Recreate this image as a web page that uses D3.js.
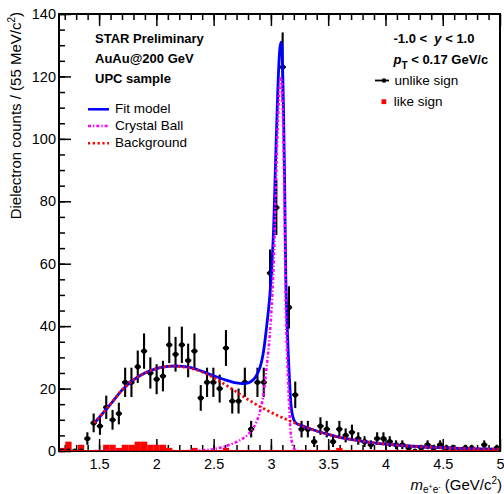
<!DOCTYPE html>
<html>
<head>
<meta charset="utf-8">
<script src="https://cdn.jsdelivr.net/npm/d3@7/dist/d3.min.js"></script>
<style>
body { margin: 0; background: #fff; }
svg { font-family: "Liberation Sans", Arial, Helvetica, sans-serif; }
.axis path { display: none; }
.axis line { stroke: #000; stroke-width: 1.5px; }
.axis text { font-size: 14.5px; fill: #000; }
.label { font-size: 13px; fill: #000; white-space: pre; }
.bold { font-weight: bold; }
</style>
</head>
<body>
<div id="chart"></div>
<script>
// histogram binning: 70 bins of 55 MeV from 1.15 to 5.0 GeV/c^2
var binLow = 1.15;
var binWidth = 0.055;

// unlike-sign pairs (black points), counts per bin
var unlikeCounts = [
	0, 0, 0, 0, 4, 9, 8, 14, 10, 12,
	22, 22, 27, 32, 25, 23, 24, 34, 31, 34,
	29, 32, 17, 22, 22, 20, 33, 16, 16, 22,
	7, 22, 22, 57, 78, 123, 46, 18, 7, 7,
	3, 8, 7, 3, 7, 5, 6, 4, 3, 2,
	4, 4, 3, 2, 2, 1, 0, 1, 2, 1,
	2, 1, 1, 0, 1, 1, 0, 2, 0, 1
];

// like-sign pairs (red filled histogram)
var likeCounts = [
	1, 3, 0, 2, 0, 0, 0, 2, 2, 1,
	2, 2, 3, 3, 2, 2, 2, 1, 0, 0,
	0, 1, 0, 0, 0, 0, 1, 0, 0, 0,
	0, 0, 0, 0, 0, 0, 0, 0, 0, 0,
	0, 0, 0, 0, 1, 0, 0, 0, 0, 0,
	0, 0, 0, 0, 0, 0, 0, 0, 0, 0,
	0, 0, 0, 0, 0, 0, 0, 0, 0, 0
];

// fit model
var fitMass = [1.46, 1.5, 1.6, 1.7, 1.8, 1.9, 2.0, 2.1, 2.2, 2.3, 2.4, 2.5, 2.6, 2.7, 2.75, 2.8, 2.85, 2.9,
	2.93, 2.96, 2.99, 3.02, 3.04, 3.06, 3.08, 3.09, 3.10, 3.11, 3.12, 3.13, 3.14, 3.16, 3.18, 3.2, 3.22,
	3.3, 3.4, 3.5, 3.6, 3.7, 3.8, 3.9, 4.0, 4.2, 4.4, 4.6, 4.8, 5.0];
var fitCounts = [9, 10.7, 15, 19.5, 22.8, 25, 26.4, 27.1, 27.2, 26.7, 25.5, 24.1, 22.8, 21.8, 21.6, 21.8, 23, 26.3,
	30.7, 39, 49.5, 68, 91.7, 115.3, 129.5, 131, 124.5, 109.5, 86, 55.5, 42.5, 24.5, 13.3, 10, 8.9,
	7.7, 6.4, 5.3, 4.4, 3.7, 3.1, 2.6, 2.2, 1.6, 1.2, 0.9, 0.7, 0.55];

// crystal ball component (magenta)
var cbMass = [1.46, 2.3, 2.4, 2.5, 2.6, 2.7, 2.75, 2.8, 2.85, 2.9, 2.93, 2.96, 2.99, 3.02, 3.04, 3.06, 3.08,
	3.09, 3.10, 3.11, 3.12, 3.13, 3.14, 3.16, 3.18, 3.2, 3.22, 3.3, 5.0];
var cbCounts = [0, 0, 0.2, 0.6, 1.5, 2.9, 3.9, 5.3, 7.6, 12, 17, 26, 37, 56, 80, 104, 118,
	119.5, 113, 98, 75, 45, 32, 14, 3.5, 0.9, 0.2, 0, 0];

// background component (red dotted)
var bgMass = [1.46, 1.5, 1.6, 1.7, 1.8, 1.9, 2.0, 2.1, 2.2, 2.3, 2.4, 2.5, 2.6, 2.7, 2.8, 2.9, 3.0, 3.1,
	3.2, 3.3, 3.4, 3.5, 3.6, 3.7, 3.8, 3.9, 4.0, 4.2, 4.4, 4.6, 4.8, 5.0];
var bgCounts = [9, 10.7, 15, 19.5, 22.8, 25, 26.4, 27.1, 27.1, 26.5, 25.3, 23.5, 21.3, 18.9, 16.5, 14.3, 12.4, 10.7,
	9.1, 7.7, 6.4, 5.3, 4.4, 3.7, 3.1, 2.6, 2.2, 1.6, 1.2, 0.9, 0.7, 0.55];

var xMajorTicks = [1.5, 2, 2.5, 3, 3.5, 4, 4.5, 5];
var yMajorTicks = [0, 20, 40, 60, 80, 100, 120, 140];

var frameLeft = 59, frameRight = 500, frameTop = 14, frameBottom = 451;
var cbDash = "3,2,1.3,2";
var bgDash = "2.2,2.6";

var x = d3.scaleLinear()
		.domain([binLow, 5.0])
		.range([frameLeft, frameRight]);

var y = d3.scaleLinear()
		.domain([0, 140])
		.range([frameBottom, frameTop]);

var svg = d3.select("#chart").append("svg")
		.attr("width", 504)
		.attr("height", 494);

svg.append("clipPath")
		.attr("id", "plotclip")
	.append("rect")
		.attr("x", frameLeft)
		.attr("y", frameTop)
		.attr("width", frameRight - frameLeft)
		.attr("height", frameBottom - frameTop + 1);

var bins = unlikeCounts.map(function(d, i) {
	return {
		lo: binLow + i * binWidth,
		hi: binLow + (i + 1) * binWidth,
		mid: binLow + (i + 0.5) * binWidth,
		unlike: d,
		like: likeCounts[i]
	};
});

// axes (ticks point inward)
svg.append("g")
		.attr("class", "axis")
		.attr("transform", "translate(0," + frameBottom + ")")
		.call(d3.axisBottom(x).tickValues(xMajorTicks).tickSize(-12).tickPadding(8).tickFormat(d3.format("~g")));

svg.append("g")
		.attr("class", "axis")
		.attr("transform", "translate(0," + frameBottom + ")")
		.call(d3.axisBottom(x).tickValues(d3.range(1.2, 5.0, 0.1)).tickSize(-6).tickFormat(""));

svg.append("g")
		.attr("class", "axis")
		.attr("transform", "translate(0," + frameTop + ")")
		.call(d3.axisTop(x).tickValues(xMajorTicks).tickSize(-12).tickFormat(""));

svg.append("g")
		.attr("class", "axis")
		.attr("transform", "translate(0," + frameTop + ")")
		.call(d3.axisTop(x).tickValues(d3.range(1.2, 5.0, 0.1)).tickSize(-6).tickFormat(""));

svg.append("g")
		.attr("class", "axis")
		.attr("transform", "translate(" + frameLeft + ",0)")
		.call(d3.axisLeft(y).tickValues(yMajorTicks).tickSize(-12).tickPadding(3));

svg.append("g")
		.attr("class", "axis")
		.attr("transform", "translate(" + frameLeft + ",0)")
		.call(d3.axisLeft(y).tickValues(d3.range(0, 141, 5)).tickSize(-6).tickFormat(""));

var plot = svg.append("g")
		.attr("clip-path", "url(#plotclip)");

// like sign histogram
plot.selectAll(".like")
		.data(bins.filter(function(d) { return d.like > 0; }))
	.enter().append("rect")
		.attr("class", "like")
		.attr("x", function(d) { return x(d.lo); })
		.attr("y", function(d) { return y(d.like); })
		.attr("width", function(d) { return x(d.hi) - x(d.lo); })
		.attr("height", function(d) { return y(0) - y(d.like); })
		.style("fill", "#ff0000");

// unlike sign points with errors
var pts = plot.selectAll(".pt")
		.data(bins)
	.enter().append("g")
		.attr("class", "pt");

pts.append("line")
		.attr("x1", function(d) { return x(d.mid); })
		.attr("x2", function(d) { return x(d.mid); })
		.attr("y1", function(d) { return y(d.unlike - Math.sqrt(d.unlike)); })
		.attr("y2", function(d) { return y(d.unlike + Math.sqrt(d.unlike)); })
		.style("stroke", "#000")
		.style("stroke-width", 2.1);

pts.append("line")
		.attr("x1", function(d) { return x(d.lo); })
		.attr("x2", function(d) { return x(d.hi); })
		.attr("y1", function(d) { return y(d.unlike); })
		.attr("y2", function(d) { return y(d.unlike); })
		.style("stroke", "#000")
		.style("stroke-width", 2.1);

pts.append("circle")
		.attr("cx", function(d) { return x(d.mid); })
		.attr("cy", function(d) { return y(d.unlike); })
		.attr("r", 2.6)
		.style("fill", "#000");

// curves
function curvePath(xs, ys) {
	return d3.line()
		.x(function(d, i) { return x(xs[i]); })
		.y(function(d, i) { return y(ys[i]); })
		.curve(d3.curveCatmullRom.alpha(0.5))(xs);
}

plot.append("path")
		.attr("d", curvePath(fitMass, fitCounts))
		.style("fill", "none")
		.style("stroke", "#0000ff")
		.style("stroke-width", 2.8);

plot.append("path")
		.attr("d", curvePath(cbMass, cbCounts))
		.style("fill", "none")
		.style("stroke", "#ff00ff")
		.style("stroke-width", 2.5)
		.style("stroke-dasharray", cbDash);

plot.append("path")
		.attr("d", curvePath(bgMass, bgCounts))
		.style("fill", "none")
		.style("stroke", "#ff0000")
		.style("stroke-width", 2.8)
		.style("stroke-dasharray", bgDash);

// frame
svg.append("rect")
		.attr("x", frameLeft)
		.attr("y", frameTop)
		.attr("width", frameRight - frameLeft)
		.attr("height", frameBottom - frameTop)
		.style("fill", "none")
		.style("stroke", "#000")
		.style("stroke-width", 2);

svg.append("line")
		.attr("x1", frameLeft + 1)
		.attr("x2", frameRight - 1)
		.attr("y1", frameBottom - 0.5)
		.attr("y2", frameBottom - 0.5)
		.style("stroke", "#cc0000")
		.style("stroke-width", 1);

// axis titles
var yTitle = svg.append("text")
		.attr("transform", "translate(20.5,12) rotate(-90)")
		.attr("text-anchor", "end")
		.style("font-size", "15px");
yTitle.append("tspan").text("Dielectron counts / (55 MeV/c");
yTitle.append("tspan").attr("dy", -6).style("font-size", "10px").text("2");
yTitle.append("tspan").attr("dy", 6).text(")");

var xTitle = svg.append("text")
		.attr("x", 502)
		.attr("y", 490)
		.attr("text-anchor", "end")
		.style("font-size", "15px");
xTitle.append("tspan").style("font-style", "italic").text("m");
xTitle.append("tspan").attr("dy", 3).style("font-size", "10px").text("e");
xTitle.append("tspan").attr("dy", -4).style("font-size", "7px").text("+");
xTitle.append("tspan").attr("dy", 4).style("font-size", "10px").text("e");
xTitle.append("tspan").attr("dy", -4).style("font-size", "7px").text("-");
xTitle.append("tspan").attr("dy", 1).text(" (GeV/c");
xTitle.append("tspan").attr("dy", -6).style("font-size", "10px").text("2");
xTitle.append("tspan").attr("dy", 6).text(")");

// STAR labels
var infoLines = ["STAR Preliminary", "AuAu@200 GeV", "UPC sample"];
var infoBase = [43, 63, 82.5];
svg.selectAll(".info")
		.data(infoLines)
	.enter().append("text")
		.attr("class", "label bold info")
		.attr("x", 95)
		.attr("y", function(d, i) { return infoBase[i]; })
		.text(function(d) { return d; });

var cut1 = svg.append("text")
		.attr("class", "label bold")
		.attr("x", 393.5)
		.attr("y", 43.3);
cut1.append("tspan").text("-1.0 <  ");
cut1.append("tspan").style("font-style", "italic").text("y");
cut1.append("tspan").text(" < 1.0");

var cut2 = svg.append("text")
		.attr("class", "label bold")
		.attr("x", 393.5)
		.attr("y", 64);
cut2.append("tspan").style("font-style", "italic").text("p");
cut2.append("tspan").attr("dy", 5).style("font-size", "10px").text("T");
cut2.append("tspan").attr("dy", -5).text(" < 0.17 GeV/c");

// legend for the fit components
var fitLegend = [
	{label: "Fit model", color: "#0000ff", dash: null, base: 113.3, ly: 109.3},
	{label: "Crystal Ball", color: "#ff00ff", dash: cbDash, base: 130, ly: 126},
	{label: "Background", color: "#ff0000", dash: bgDash, base: 146.7, ly: 143.3}
];

var fl = svg.selectAll(".fl")
		.data(fitLegend)
	.enter().append("g")
		.attr("class", "fl");

fl.append("line")
		.attr("x1", 88)
		.attr("x2", 109)
		.attr("y1", function(d) { return d.ly; })
		.attr("y2", function(d) { return d.ly; })
		.style("stroke", function(d) { return d.color; })
		.style("stroke-width", 2.5)
		.style("stroke-dasharray", function(d) { return d.dash; });

fl.append("text")
		.attr("class", "label")
		.attr("x", 115)
		.attr("y", function(d) { return d.base; })
		.style("font-size", "13.5px")
		.text(function(d) { return d.label; });

// legend for the data
svg.append("line")
		.attr("x1", 375)
		.attr("x2", 389)
		.attr("y1", 80.5)
		.attr("y2", 80.5)
		.style("stroke", "#000")
		.style("stroke-width", 1.8);
svg.append("circle")
		.attr("cx", 384)
		.attr("cy", 80.5)
		.attr("r", 2.3)
		.style("fill", "#000");
svg.append("text")
		.attr("class", "label")
		.attr("x", 394.5)
		.attr("y", 85)
		.style("font-size", "13.5px")
		.text("unlike sign");

svg.append("rect")
		.attr("x", 381.5)
		.attr("y", 99.3)
		.attr("width", 4.8)
		.attr("height", 4.8)
		.style("fill", "#ff0000");
svg.append("text")
		.attr("class", "label")
		.attr("x", 393.7)
		.attr("y", 105.5)
		.style("font-size", "13.5px")
		.text("like sign");
</script>
</body>
</html>
